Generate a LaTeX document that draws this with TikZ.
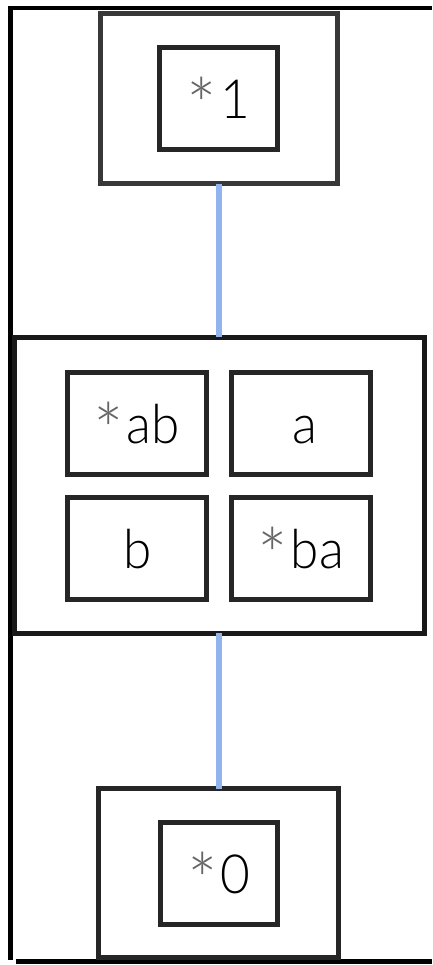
\documentclass[tikz,border=0pt]{standalone}
\usepackage{fontspec}
\usepackage{graphicx}
\setmainfont{Lato}[UprightFont=* Light]
\definecolor{linkblue}{RGB}{145,180,238}
\newcommand\stard{\textcolor{black!60}{\raisebox{-15pt}{\scalebox{1.4}{*}}}\hspace{3pt}}
\newcommand\lbl[1]{\scalebox{0.95}[1]{#1}}
\begin{document}
\begin{tikzpicture}[x=1pt,y=-1pt,
  frame/.style={line width=4.5pt,black},
  outerbox/.style={draw=black!78,line width=5pt,rectangle,inner sep=0pt,outer sep=0pt},
  innerbox/.style={draw=black!85,line width=5pt,rectangle,inner sep=0pt,outer sep=0pt,
     text height=40pt,text depth=0pt,font=\fontsize{54pt}{60pt}\selectfont},
  cell/.style={innerbox,minimum width=139.5pt,minimum height=101.5pt},
  link/.style={draw=linkblue,line width=6.5pt}]
\useasboundingbox (0,0) rectangle (432,965);
% outer frame
\draw[frame] (432,8) -- (10.5,8) -- (10.5,960);
\draw[frame] (16,961.5) -- (432,961.5);
% top group
\node[outerbox,minimum width=237.5pt,minimum height=170.5pt] (top) at (218.75,98.75) {};
\node[innerbox,minimum width=117.5pt,minimum height=101.5pt] (one) at (218.25,98.75) {\lbl{\stard 1}\hspace{14pt}};
% middle group
\node[outerbox,draw=black!90,minimum width=410pt,minimum height=296pt] (mid) at (219,485) {};
\node[cell] (ab) at (136.75,423.5) {\lbl{\stard ab}};
\node[cell] (a) at (300.75,423.5) {\hspace{8pt}\lbl{a}};
\node[cell] (b) at (136.75,548.25) {\hspace{2pt}\lbl{b}};
\node[cell] (ba) at (300.75,548.25) {\lbl{\stard ba}};
% bottom group
\node[outerbox,draw=black!85,minimum width=239.5pt,minimum height=168.5pt] (bot) at (218.25,872.75) {};
\node[innerbox,minimum width=116.5pt,minimum height=102.5pt] (zero) at (218.75,873.25) {\lbl{\stard 0}\hspace{9pt}};
% connectors
\draw[link] (top.south) -- (top.south |- mid.north);
\draw[link] (mid.south -| top.south) -- (bot.north -| top.south);
\end{tikzpicture}
\end{document}
